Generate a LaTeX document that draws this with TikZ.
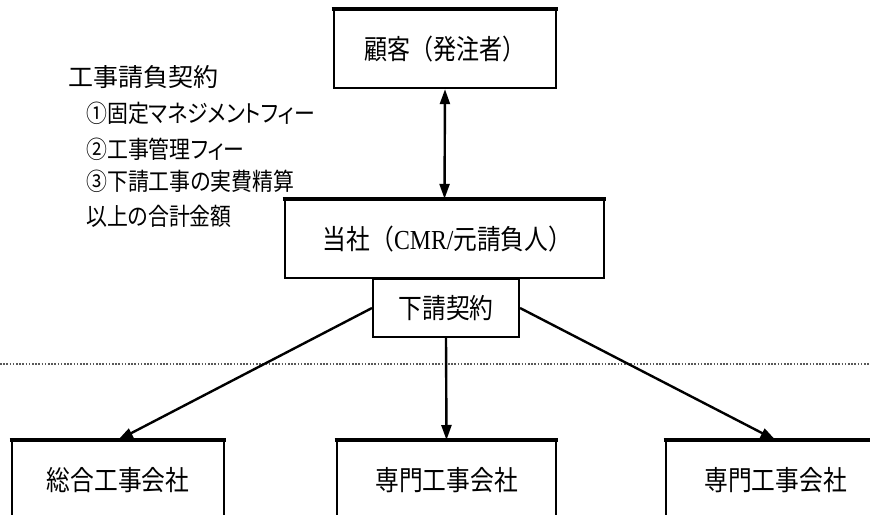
\documentclass[tikz,border=0pt]{standalone}
\usepackage{fontspec}
\usepackage{graphicx}
\setmainfont{Noto Sans CJK JP}[RawFeature=+palt]
\newfontfamily\boxfont{Noto Sans CJK JP}
\newfontfamily\serifl{Liberation Serif}
\usetikzlibrary{arrows.meta}
\begin{document}
\begin{tikzpicture}[x=1pt,y=-1pt,
  box/.style={draw, line width=2.4pt, inner sep=0pt, font=\boxfont\fontsize{25}{30}\selectfont},
  subbox/.style={draw, line width=2pt, inner sep=0pt, font=\boxfont\fontsize{25}{30}\selectfont},
  lbl/.style={anchor=west, inner sep=0pt, font=\fontsize{22}{26}\selectfont},
  conn/.style={line width=2.4pt, -{Triangle[length=15pt,width=10pt]}},
  topedge/.style={line width=4.5pt}]
\useasboundingbox (0,0) rectangle (870,514);
\begin{scope}
\clip (0,0) rectangle (870,514);
% boxes
\node[box, minimum width=222pt, minimum height=78pt] (cust) at (445,49) {\scalebox{0.92}[1.1]{顧客（発注者）}};
\node[box, minimum width=319pt, minimum height=78pt] (cmr) at (444.5,239) {\hspace*{6pt}\scalebox{0.95}[1.1]{当社（{\serifl CMR/}元請負人）}};
\node[subbox, minimum width=146pt, minimum height=58pt, anchor=north] (sub) at (446,278) {\scalebox{0.95}[1.1]{下請契約}};
\node[box, minimum width=212pt, minimum height=78pt, anchor=north] (b1) at (118,440) {\scalebox{0.95}[1.1]{総合工事会社}};
\node[box, minimum width=219pt, minimum height=78pt, anchor=north] (b2) at (446.5,440) {\scalebox{0.95}[1.1]{専門工事会社}};
\node[box, minimum width=219pt, minimum height=78pt, anchor=north] (b3) at (775.5,440) {\scalebox{0.95}[1.1]{専門工事会社}};
\foreach \n in {cust,cmr,b1,b2,b3}
  \draw[topedge] ([xshift=-1.2pt]\n.north west) -- ([xshift=1.2pt]\n.north east);
\end{scope}
% dotted separator
\draw[line width=1.3pt, gray!70!black, dash pattern=on 1.6pt off 1.6pt] (0,364) coordinate (dl) -- (870,364) coordinate (dr);
% connectors
\draw[line width=2.4pt, {Triangle[length=15pt,width=10pt]}-{Triangle[length=15pt,width=10pt]}] (cust.south) -- (cmr.north);
\draw[conn] (sub.west) -- (b1.north);
\draw[conn] (sub.south) -- (b2.north);
\draw[conn] (sub.east) -- (b3.north);
% contract text
\node[lbl, font=\fontsize{25}{30}\selectfont] (t0) at (68,77) {工事請負契約};
\node[lbl] (t1) at (86,113) {\scalebox{0.95}[1.1]{①固定マネジメントフィー}};
\node[lbl] (t2) at (86,149) {\scalebox{0.95}[1.1]{②工事管理フィー}};
\node[lbl] (t3) at (86,181) {\scalebox{0.95}[1.1]{③下請工事の実費精算}};
\node[lbl] (t4) at (86,216) {\scalebox{0.95}[1.1]{以上の合計金額}};
\end{tikzpicture}
\end{document}
